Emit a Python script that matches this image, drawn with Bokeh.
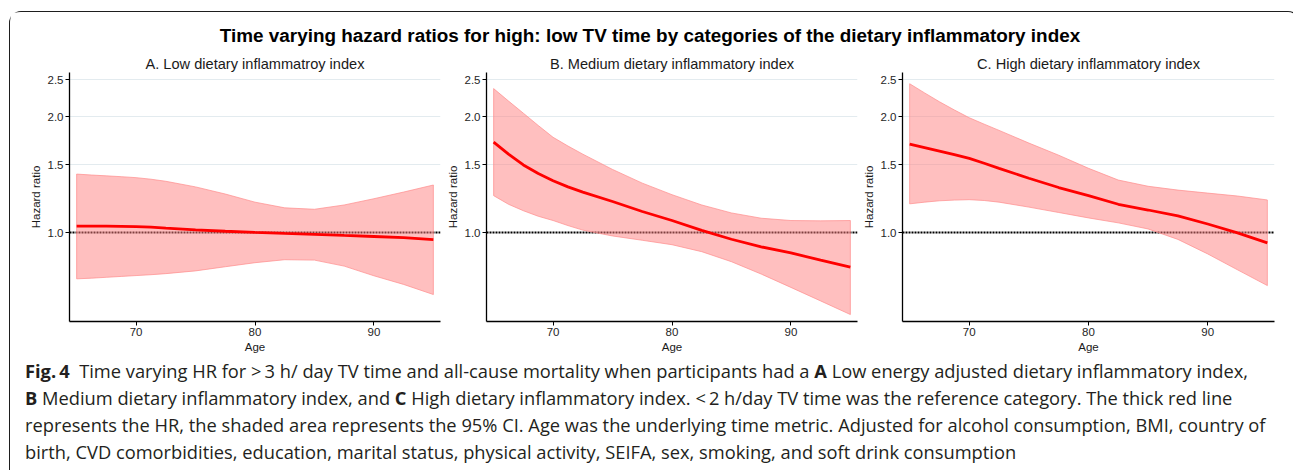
from bokeh.plotting import figure
from bokeh.layouts import column, row
from bokeh.models import FixedTicker, PrintfTickFormatter, Span, Label, Div
from bokeh.embed import file_html
from bokeh.resources import INLINE

# ---------------- data ----------------
ages = [65, 66.25, 67.5, 68.75, 70, 71.25, 72.5, 75, 77.5, 80, 82.5, 85, 87.5, 90, 92.5, 95]

low_hr    = [1.039, 1.039, 1.039, 1.038, 1.037, 1.033, 1.027, 1.016, 1.008, 1.001, 0.995, 0.990, 0.983, 0.977, 0.970, 0.959]
low_upper = [1.42, 1.412, 1.405, 1.398, 1.39, 1.377, 1.36, 1.315, 1.26, 1.20, 1.16, 1.15, 1.18, 1.225, 1.275, 1.33]
low_lower = [0.758, 0.761, 0.765, 0.769, 0.773, 0.777, 0.782, 0.795, 0.815, 0.835, 0.85, 0.848, 0.818, 0.772, 0.733, 0.69]

med_hr    = [1.72, 1.60, 1.50, 1.425, 1.365, 1.315, 1.275, 1.205, 1.135, 1.075, 1.013, 0.961, 0.918, 0.885, 0.848, 0.813]
med_upper = [2.37, 2.20, 2.045, 1.90, 1.77, 1.68, 1.60, 1.46, 1.345, 1.255, 1.18, 1.125, 1.09, 1.075, 1.073, 1.075]
med_lower = [1.248, 1.185, 1.14, 1.103, 1.075, 1.043, 1.015, 0.98, 0.955, 0.93, 0.892, 0.84, 0.78, 0.72, 0.664, 0.612]

high_hr    = [1.70, 1.665, 1.63, 1.595, 1.56, 1.515, 1.47, 1.385, 1.31, 1.248, 1.185, 1.145, 1.105, 1.053, 0.998, 0.94]
high_upper = [2.44, 2.31, 2.19, 2.085, 1.99, 1.915, 1.845, 1.71, 1.59, 1.47, 1.37, 1.32, 1.29, 1.267, 1.245, 1.216]
high_lower = [1.188, 1.20, 1.21, 1.215, 1.218, 1.212, 1.20, 1.165, 1.128, 1.092, 1.06, 1.022, 0.96, 0.88, 0.80, 0.728]

panel_titles = ["A. Low dietary inflammatroy index",
                "B. Medium dietary inflammatory index",
                "C. High dietary inflammatory index"]
main_title = "Time varying hazard ratios for high: low TV time by categories of the dietary inflammatory index"
y_ticks = [1.0, 1.5, 2.0, 2.5]
x_ticks = [70, 80, 90]
x_label = "Age"
y_label = "Hazard ratio"

caption_lines = [
    "<b>Fig.&#8201;4</b>&nbsp; Time varying HR for &gt;&#8201;3 h/ day TV time and all-cause mortality when participants had a <b>A</b> Low energy adjusted dietary inflammatory index,",
    "<b>B</b> Medium dietary inflammatory index, and <b>C</b> High dietary inflammatory index. &lt;&#8201;2 h/day TV time was the reference category. The thick red line",
    "represents the HR, the shaded area represents the 95% CI. Age was the underlying time metric. Adjusted for alcohol consumption, BMI, country of",
    "birth, CVD comorbidities, education, marital status, physical activity, SEIFA, sex, smoking, and soft drink consumption",
]

FONT = "Liberation Sans"


def make_panel(title, hr, lo, hi, width, left, right):
    p = figure(width=width, height=311, y_axis_type="log",
               x_range=(64.4, 95.6), y_range=(0.587, 2.61),
               min_border_left=left, min_border_right=right,
               min_border_top=24, min_border_bottom=38,
               toolbar_location=None, output_backend="svg",
               outline_line_color=None, background_fill_color="white",
               border_fill_color="white")
    p.title.text = title
    p.title.align = "center"
    p.title.standoff = 2
    p.title.text_font = FONT
    p.title.text_font_size = "14.6px"
    p.title.text_font_style = "normal"
    p.title.text_color = "#1a1a1a"

    p.xgrid.visible = False
    p.ygrid.ticker = FixedTicker(ticks=[1.5, 2.0, 2.5], minor_ticks=[])
    p.ygrid.grid_line_color = "#e3ebef"
    p.ygrid.grid_line_width = 1

    p.yaxis.ticker = FixedTicker(ticks=y_ticks, minor_ticks=[])
    p.yaxis.formatter = PrintfTickFormatter(format="%.1f")
    p.xaxis.ticker = FixedTicker(ticks=x_ticks, minor_ticks=[])
    for ax in (p.xaxis[0], p.yaxis[0]):
        ax.axis_line_color = "black"
        ax.axis_line_width = 1.3
        ax.major_tick_line_color = "black"
        ax.major_tick_line_width = 1
        ax.major_tick_out = 4
        ax.major_tick_in = 0
        ax.minor_tick_out = 0
        ax.minor_tick_in = 0
        ax.major_label_text_font = FONT
        ax.major_label_text_font_size = "11.5px"
        ax.major_label_text_color = "#262626"
        ax.major_label_standoff = 2
        ax.axis_label_text_font = FONT
        ax.axis_label_text_font_size = "11.5px"
        ax.axis_label_text_font_style = "normal"
        ax.axis_label_text_color = "#1a1a1a"
    p.xaxis.axis_label = x_label
    p.yaxis.axis_label = y_label
    p.xaxis.axis_label_standoff = 2
    p.yaxis.axis_label_standoff = 3

    ref = Span(location=1.0, dimension="width", line_color="black",
               line_width=2, line_dash="2 1", level="underlay")
    p.add_layout(ref)

    xs = list(ages) + list(reversed(ages))
    ys = list(hi) + list(reversed(lo))
    p.patch(xs, ys, fill_color="#ff8080", fill_alpha=0.5,
            line_color="#ff8c8c", line_alpha=0.7, line_width=1)
    p.line(ages, hr, line_color="#ff0000", line_width=2.8)
    return p


pa = make_panel(panel_titles[0], low_hr, low_lower, low_upper, 432, 59, 2)
pb = make_panel(panel_titles[1], med_hr, med_lower, med_upper, 416, 44, 1)
pc = make_panel(panel_titles[2], high_hr, high_lower, high_upper, 431, 44, 15)

tp = figure(width=1279, height=36, x_range=(0, 1), y_range=(0, 36),
            x_axis_location=None, y_axis_location=None, min_border=0,
            toolbar_location=None, output_backend="svg", outline_line_color=None)
tp.grid.visible = False
tp.add_layout(Label(x=0.5, y=13.5, text=main_title, text_align="center",
                    text_baseline="middle", text_font=FONT,
                    text_font_size="18.9px", text_font_style="bold", text_color="black"))

cap_html = ('<div style="font-family:\'Open Sans\'; font-size:18.3px; line-height:27px; '
            'color:#231f20; white-space:nowrap; padding-left:10px; position:relative; top:-7px;">'
            + "<br>".join(caption_lines) + "</div>")
cap = Div(text=cap_html, width=1279, height=101)

layout = column(tp, row(pa, pb, pc), cap, margin=(11, 0, 0, 9),
                styles={"border-top": "1.5px solid #1e1e1e",
                        "border-left": "1.5px solid #1e1e1e",
                        "border-right": "1.5px solid #1e1e1e",
                        "border-radius": "12px 12px 0 0"})

open("out.html", "w").write(file_html(layout, INLINE))
